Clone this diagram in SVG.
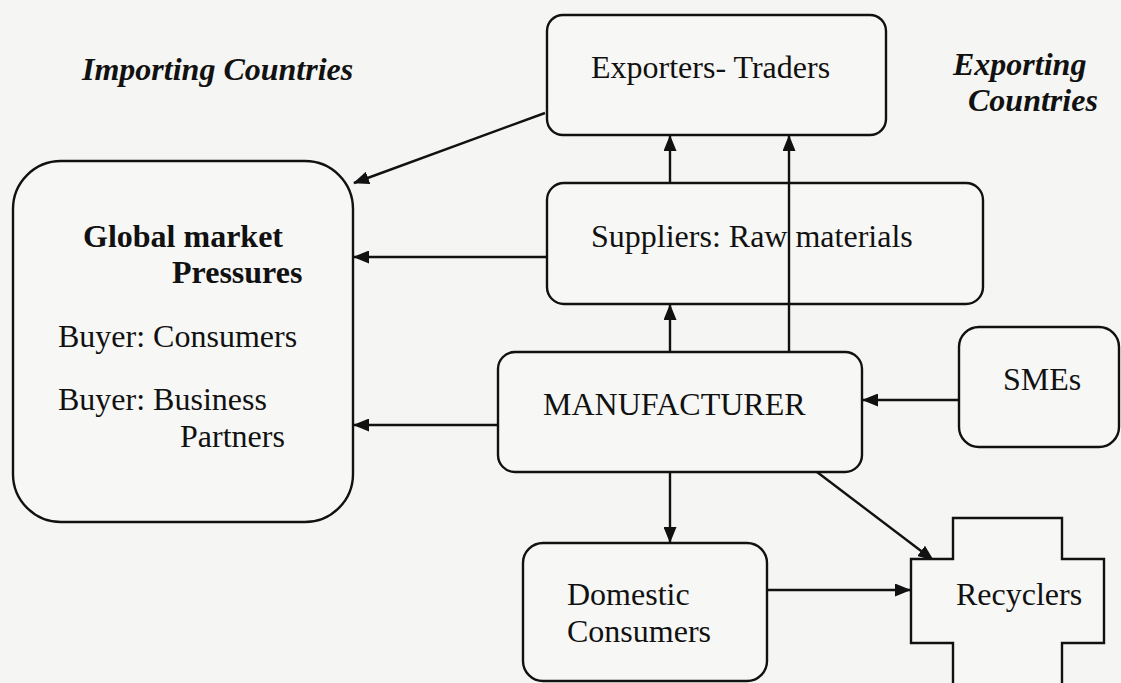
<svg xmlns="http://www.w3.org/2000/svg" width="1121" height="683" viewBox="0 0 1121 683">
  <style>
    .box { fill: #f7f7f5; stroke: #111; stroke-width: 2.4; }
    .t { font-family: "Liberation Serif", "Times New Roman", serif; font-size: 32px; fill: #111; }
    .b { font-weight: bold; }
    .bi { font-weight: bold; font-style: italic; }
    .c { fill: none; stroke: #111; stroke-width: 2.4; }
  </style>
  <defs>
    <marker id="ah" markerWidth="16" markerHeight="13" refX="15" refY="6.5" orient="auto" markerUnits="userSpaceOnUse">
      <path d="M0,0 L16,6.5 L0,13 Z" fill="#111"/>
    </marker>
  </defs>
  <rect x="0" y="0" width="1121" height="683" fill="#f5f5f3"/>

  <g id="label-importing">
    <text class="t bi" x="82" y="80">Importing Countries</text>
  </g>
  <g id="label-exporting">
    <text class="t bi" x="953" y="75">Exporting</text>
    <text class="t bi" x="968" y="111">Countries</text>
  </g>

  <g id="global-market">
    <rect class="box" x="13" y="161" width="340" height="361" rx="48" ry="48"/>
    <text class="t b" x="83" y="247">Global market</text>
    <text class="t b" x="172" y="283">Pressures</text>
    <text class="t" x="58" y="347">Buyer: Consumers</text>
    <text class="t" x="58" y="410">Buyer: Business</text>
    <text class="t" x="180" y="447">Partners</text>
  </g>

  <g id="exporters-traders">
    <rect class="box" x="547" y="15" width="339" height="120" rx="16" ry="16"/>
    <text class="t" x="591" y="78">Exporters- Traders</text>
  </g>

  <g id="suppliers">
    <rect class="box" x="547" y="183" width="436" height="121" rx="17" ry="17"/>
    <text class="t" x="591" y="247">Suppliers: Raw materials</text>
  </g>

  <g id="manufacturer">
    <rect class="box" x="498" y="352" width="364" height="120" rx="17" ry="17"/>
    <text class="t" x="543" y="415">MANUFACTURER</text>
  </g>

  <g id="smes">
    <rect class="box" x="959" y="327" width="160" height="120" rx="20" ry="20"/>
    <text class="t" x="1003" y="390">SMEs</text>
  </g>

  <g id="domestic-consumers">
    <rect class="box" x="523" y="543" width="244" height="138" rx="20" ry="20"/>
    <text class="t" x="567" y="605">Domestic</text>
    <text class="t" x="567" y="642">Consumers</text>
  </g>

  <g id="connectors">
    <line class="c" x1="545" y1="113" x2="354" y2="183" marker-end="url(#ah)"/>
    <line class="c" x1="547" y1="257" x2="354" y2="257" marker-end="url(#ah)"/>
    <line class="c" x1="498" y1="425" x2="354" y2="425" marker-end="url(#ah)"/>
    <line class="c" x1="670" y1="183" x2="670" y2="136" marker-end="url(#ah)"/>
    <line class="c" x1="789" y1="352" x2="789" y2="136" marker-end="url(#ah)"/>
    <line class="c" x1="670" y1="352" x2="670" y2="305" marker-end="url(#ah)"/>
    <line class="c" x1="959" y1="400" x2="863" y2="400" marker-end="url(#ah)"/>
    <line class="c" x1="670" y1="472" x2="670" y2="542" marker-end="url(#ah)"/>
    <line class="c" x1="767" y1="590" x2="910" y2="590" marker-end="url(#ah)"/>
    <line class="c" x1="817" y1="472" x2="933" y2="560" marker-end="url(#ah)"/>
  </g>

  <g id="recyclers">
    <path class="box" d="M953,690 L953,643 L911,643 L911,559 L953,559 L953,518 L1062,518 L1062,559 L1104,559 L1104,643 L1062,643 L1062,690"/>
    <text class="t" x="956" y="605">Recyclers</text>
  </g>
</svg>
